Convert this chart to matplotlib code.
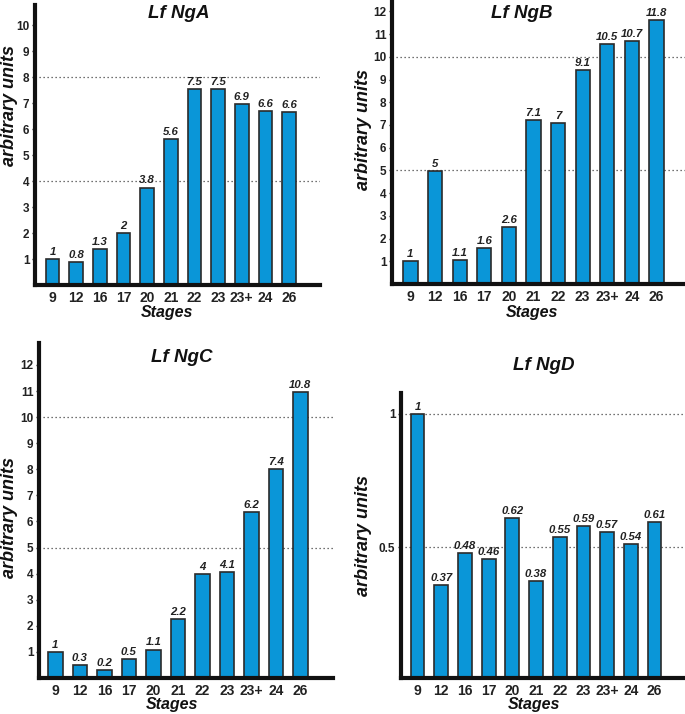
import matplotlib
matplotlib.use("Agg")
import matplotlib.pyplot as plt

plt.rcParams['font.family'] = ['Liberation Sans', 'DejaVu Sans']

stages = ["9", "12", "16", "17", "20", "21", "22", "23", "23+", "24", "26"]

nga_heights = [1.0, 0.9, 1.4, 2.0, 3.75, 5.6, 7.55, 7.55, 6.95, 6.7, 6.65]
nga_labels = ["1", "0.8", "1.3", "2", "3.8", "5.6", "7.5", "7.5", "6.9", "6.6", "6.6"]

ngb_heights = [1.0, 4.97, 1.07, 1.6, 2.5, 7.2, 7.08, 9.4, 10.55, 10.7, 11.6]
ngb_labels = ["1", "5", "1.1", "1.6", "2.6", "7.1", "7", "9.1", "10.5", "10.7", "11.8"]

ngc_heights = [1.0, 0.5, 0.32, 0.74, 1.09, 2.26, 3.98, 4.07, 6.37, 8.0, 10.95]
ngc_labels = ["1", "0.3", "0.2", "0.5", "1.1", "2.2", "4", "4.1", "6.2", "7.4", "10.8"]

ngd_heights = [1.0, 0.36, 0.48, 0.455, 0.61, 0.375, 0.54, 0.58, 0.557, 0.512, 0.594]
ngd_labels = ["1", "0.37", "0.48", "0.46", "0.62", "0.38", "0.55", "0.59", "0.57", "0.54", "0.61"]

W, H = 685, 714
fig = plt.figure(figsize=(W / 100, H / 100), dpi=100)

BAR = "#0A96D8"
EDGE = "#2b2b2b"

panels = [
    dict(title="Lf NgA", h=nga_heights, lab=nga_labels, rect=(35, 5, 320, 285),
         xlim=(-0.74, 11.31), ylim=(0, 10.77), yticks=list(range(1, 11)), yticklabels=[str(i) for i in range(1, 11)],
         dots=[4, 8], title_xy=(179, 14), ylab_xy=(10, 105), stg_xy=(167, 312)),
    dict(title="Lf NgB", h=ngb_heights, lab=ngb_labels, rect=(392, 0, 685, 284),
         xlim=(-0.75, 11.16), ylim=(0, 12.5), yticks=list(range(1, 13)), yticklabels=[str(i) for i in range(1, 13)],
         dots=[5, 10], title_xy=(522, 14), ylab_xy=(363, 130), stg_xy=(532, 312)),
    dict(title="Lf NgC", h=ngc_heights, lab=ngc_labels, rect=(39, 343, 333, 678),
         xlim=(-0.67, 11.33), ylim=(0, 12.84), yticks=list(range(1, 13)), yticklabels=[str(i) for i in range(1, 13)],
         dots=[5, 10], title_xy=(182, 357), ylab_xy=(10, 518), stg_xy=(172, 704)),
    dict(title="Lf NgD", h=ngd_heights, lab=ngd_labels, rect=(401, 393, 685, 678),
         xlim=(-0.70, 11.29), ylim=(0.012, 1.077), yticks=[0.5, 1], yticklabels=["0.5", "1"],
         dots=[0.5, 1], title_xy=(544, 365), ylab_xy=(363, 535), stg_xy=(534, 704)),
]

for p in panels:
    x0, y0, x1, y1 = p["rect"]
    ax = fig.add_axes([x0 / W, 1 - y1 / H, (x1 - x0) / W, (y1 - y0) / H])
    ax.set_facecolor("none")
    xs = list(range(len(stages)))
    ax.bar(xs, p["h"], width=0.58, color=BAR, edgecolor=EDGE, linewidth=1.2, zorder=3)
    for x, hv, t in zip(xs, p["h"], p["lab"]):
        ax.annotate(t, (x, hv), xytext=(0, 1.5), textcoords="offset points",
                    ha="center", va="bottom", fontsize=8.2, fontweight="bold",
                    fontstyle="italic", color="#222222", zorder=4)
    for d in p["dots"]:
        ax.axhline(d, color="#444444", linestyle=(0, (1, 2.2)), linewidth=0.9, zorder=1)
    ax.set_xlim(*p["xlim"])
    ax.set_ylim(*p["ylim"])
    ax.set_xticks(xs)
    ax.set_xticklabels(stages, fontsize=10, fontweight="bold", color="#222222")
    ax.set_yticks(p["yticks"])
    ax.set_yticklabels(p["yticklabels"], fontsize=8.5, fontweight="bold", color="#222222")
    ax.tick_params(axis="x", length=0, pad=4)
    ax.tick_params(axis="y", length=2, width=1, direction="out", pad=2, color="#222222")
    for s in ("top", "right"):
        ax.spines[s].set_visible(False)
    for s in ("left", "bottom"):
        ax.spines[s].set_linewidth(3)
        ax.spines[s].set_color("#111111")
        ax.spines[s].set_zorder(5)
    tx, ty = p["title_xy"]
    fig.text(tx / W, 1 - ty / H, p["title"], ha="center", va="center", fontsize=13.5,
             fontweight="bold", fontstyle="italic", color="#111111")
    lx, ly = p["ylab_xy"]
    fig.text(lx / W, 1 - ly / H, "arbitrary units", ha="center", va="center", rotation=90,
             fontsize=13, fontweight="bold", fontstyle="italic", color="#111111")
    sx, sy = p["stg_xy"]
    fig.text(sx / W, 1 - sy / H, "Stages", ha="center", va="center", fontsize=11.5,
             fontweight="bold", fontstyle="italic", color="#111111")

fig.savefig("out.png", dpi=100)
